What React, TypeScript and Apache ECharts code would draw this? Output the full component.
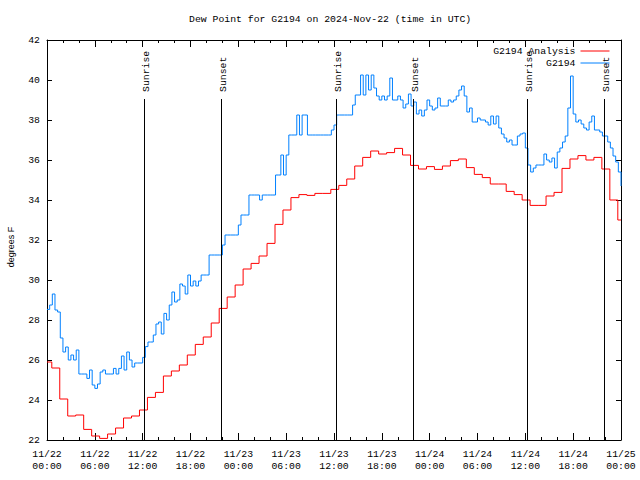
import React, { useEffect, useRef } from "react";
import * as echarts from "echarts";

const chartTitle = "Dew Point for G2194 on 2024-Nov-22 (time in UTC)";
const yAxisTitle = "degrees F";
const seriesNames = ["G2194 Analysis", "G2194"];
const xTickLabels = [
  "11/22\n00:00", "11/22\n06:00", "11/22\n12:00", "11/22\n18:00",
  "11/23\n00:00", "11/23\n06:00", "11/23\n12:00", "11/23\n18:00",
  "11/24\n00:00", "11/24\n06:00", "11/24\n12:00", "11/24\n18:00",
  "11/25\n00:00",
];

// hourly analysis values (hour 0 .. 72)
const analysisHourly = [
  25.9, 25.6, 24.05, 23.2, 23.25, 22.53, 22.2, 22.08, 22.3, 22.6,
  23.1, 23.2, 23.5, 24.13, 24.38, 25.2, 25.45, 25.75, 26.25, 26.78,
  27.15, 27.85, 28.58, 29.15, 29.75, 30.55, 30.83, 31.2, 31.83, 32.78,
  33.5, 34.12, 34.27, 34.23, 34.33, 34.33, 34.53, 34.73, 35.05, 35.7,
  36.13, 36.45, 36.3, 36.37, 36.58, 36.25, 35.73, 35.55, 35.67, 35.53,
  35.7, 35.97, 36.05, 35.62, 35.28, 35.12, 34.8, 34.8, 34.43, 34.27,
  34.0, 33.73, 33.73, 34.2, 34.38, 35.58, 36.05, 36.22, 36.0, 36.13,
  35.55, 34.0, 33.0,
];

// station observations every 20 minutes (index / 3 = hours)
const stationObs = [
  28.53, 28.75, 29.3, 28.5, 28.4, 27.1, 26.4, 26.65, 26.0, 26.25,
  26.0, 26.5, 25.3, 25.3, 25.3, 25.08, 25.5, 24.75, 24.58, 24.8,
  25.4, 25.5, 25.3, 25.3, 25.3, 25.58, 25.3, 25.58, 26.2, 25.5,
  26.4, 26.0, 25.65, 25.85, 25.85, 25.85, 26.13, 26.67, 26.9, 26.9,
  27.25, 27.8, 27.9, 27.3, 28.33, 28.0, 28.75, 29.4, 28.9, 29.0,
  29.8, 29.7, 29.3, 30.25, 29.7, 29.95, 29.7, 29.95, 30.25, 30.25,
  30.25, 31.25, 31.25, 31.25, 31.25, 31.25, 31.75, 32.25, 32.25, 32.25,
  32.25, 32.25, 32.75, 33.25, 33.25, 33.25, 34.25, 34.25, 34.25, 34.25,
  34.0, 34.25, 34.25, 34.25, 34.25, 34.25, 35.25, 35.25, 36.25, 35.25,
  36.25, 37.25, 37.25, 37.25, 38.25, 37.25, 38.25, 38.25, 37.25, 37.25,
  37.25, 37.25, 37.25, 37.25, 37.25, 37.25, 37.25, 37.5, 37.75, 38.25,
  38.25, 38.25, 38.25, 38.25, 38.25, 38.75, 39.25, 39.25, 40.25, 39.25,
  40.25, 39.5, 40.25, 39.6, 39.2, 39.0, 39.2, 39.0, 39.2, 40.1,
  39.0, 39.0, 39.2, 39.0, 38.6, 38.8, 39.3, 38.7, 38.9, 38.3,
  38.5, 38.2, 38.5, 39.0, 38.7, 38.5, 38.6, 39.1, 38.7, 38.7,
  38.7, 39.0, 38.9, 39.0, 39.2, 39.5, 39.7, 39.2, 38.4, 38.6,
  37.9, 37.9, 38.1, 38.0, 38.0, 37.9, 37.75, 38.2, 37.8, 38.2,
  37.6, 37.3, 37.1, 36.9, 37.0, 36.75, 36.75, 37.2, 37.3, 37.35,
  36.6, 35.75, 35.4, 35.6, 35.75, 35.75, 35.75, 36.3, 36.0, 35.9,
  36.1, 35.6, 36.4, 36.6, 36.9, 37.2, 38.6, 40.2, 38.3, 37.9,
  38.0, 37.8, 37.6, 37.5, 37.9, 38.2, 37.5, 37.5, 37.4, 37.2,
  37.2, 36.9, 36.6, 36.2, 35.9, 35.4, 34.7,
];

const sunEventHours = [12.22, 21.87, 36.27, 45.92, 60.27, 69.93];
const sunEventLabels = ["Sunrise", "Sunset", "Sunrise", "Sunset", "Sunrise", "Sunset"];

const Y_MIN = 22;
const Y_MAX = 42;
const X_MAX = 72;
const SUN_LINE_TOP = 39.05;

export default function App() {
  const ref = useRef<HTMLDivElement>(null);

  useEffect(() => {
    const chart = echarts.init(ref.current!, null, { renderer: "svg" });
    const mono = "'Liberation Mono', 'DejaVu Sans Mono', monospace";
    const fs = 9.8;

    const analysisData: number[][] = analysisHourly.map((v, h) => [Math.max(0, h - 0.4), v]);
    analysisData.push([X_MAX, analysisHourly[analysisHourly.length - 1]]);
    const stationData = stationObs.map((v, i) => [i / 3, v]);
    const sunData = sunEventHours.map((t) => [t, Y_MIN]);

    const xBase = (position: string, showLabel: boolean) => ({
      type: "value",
      position,
      min: 0,
      max: X_MAX,
      interval: 6,
      axisLine: { show: true, onZero: false, lineStyle: { color: "#000", width: 1 } },
      axisTick: { show: true, inside: true, length: 7, lineStyle: { color: "#000" } },
      minorTick: { show: true, splitNumber: 3, length: 3, lineStyle: { color: "#000" } },
      splitLine: { show: false },
      axisLabel: {
        show: showLabel,
        formatter: (v: number) => xTickLabels[Math.round(v / 6)] ?? "",
        color: "#000",
        fontFamily: mono,
        fontSize: fs,
        lineHeight: 12,
        margin: 8,
      },
    });
    const yBase = (position: string, showLabel: boolean) => ({
      type: "value",
      position,
      min: Y_MIN,
      max: Y_MAX,
      interval: 2,
      axisLine: { show: true, onZero: false, lineStyle: { color: "#000", width: 1 } },
      axisTick: { show: true, inside: true, length: 5, lineStyle: { color: "#000" } },
      splitLine: { show: false },
      axisLabel: {
        show: showLabel,
        color: "#000",
        fontFamily: mono,
        fontSize: fs,
        margin: 7,
      },
    });

    chart.setOption({
      animation: false,
      backgroundColor: "#fff",
      title: {
        text: chartTitle,
        left: 189,
        top: 14,
        padding: 0,
        textStyle: { fontFamily: mono, fontSize: fs, fontWeight: "normal", color: "#000" },
      },
      grid: { left: 47, right: 19, top: 40, bottom: 40, containLabel: false },
      legend: {
        data: seriesNames,
        orient: "vertical",
        align: "right",
        right: 30,
        top: 46,
        padding: 0,
        itemWidth: 29,
        itemHeight: 10,
        itemGap: 2,
        selectedMode: false,
        itemStyle: { opacity: 0, borderWidth: 0 },
        lineStyle: { width: 1 },
        textStyle: { fontFamily: mono, fontSize: fs, color: "#000" },
      },
      graphic: [
        {
          type: "text",
          x: 11,
          y: 247,
          rotation: Math.PI / 2,
          style: {
            text: yAxisTitle,
            font: "9px 'Liberation Sans', Arial, sans-serif",
            fill: "#000",
            align: "center",
            verticalAlign: "middle",
          },
        },
      ],
      xAxis: [xBase("bottom", true), xBase("top", false)],
      yAxis: [yBase("left", true), yBase("right", false)],
      series: [
        {
          name: seriesNames[0],
          type: "line",
          step: "end",
          data: analysisData,
          symbol: "none",
          xAxisIndex: 0,
          yAxisIndex: 0,
          lineStyle: { color: "#ff0000", width: 1 },
          itemStyle: { color: "#ff0000" },
          z: 2,
        },
        {
          name: seriesNames[1],
          type: "line",
          step: "end",
          data: stationData,
          symbol: "none",
          xAxisIndex: 0,
          yAxisIndex: 0,
          lineStyle: { color: "#0080ff", width: 1 },
          itemStyle: { color: "#0080ff" },
          z: 3,
        },
        {
          name: "sun",
          type: "custom",
          data: sunData,
          xAxisIndex: 0,
          yAxisIndex: 0,
          clip: false,
          z: 4,
          renderItem: (params: any, api: any) => {
            const t = api.value(0);
            const b = api.coord([t, Y_MIN]);
            const tp = api.coord([t, SUN_LINE_TOP]);
            const x = Math.round(b[0]) + 0.5;
            return {
              type: "group",
              children: [
                {
                  type: "line",
                  shape: { x1: x, y1: b[1], x2: x, y2: tp[1] },
                  style: { stroke: "#000", lineWidth: 1 },
                },
                {
                  type: "text",
                  x: x + 2,
                  y: tp[1] - 7,
                  rotation: Math.PI / 2,
                  style: {
                    text: sunEventLabels[params.dataIndex],
                    font: `${fs}px ${mono}`,
                    fill: "#000",
                    align: "left",
                    verticalAlign: "middle",
                  },
                },
              ],
            };
          },
        },
      ],
    });

    return () => chart.dispose();
  }, []);

  return (
    <div
      ref={ref}
      style={{ position: "fixed", left: 0, top: 0, width: 640, height: 480 }}
    />
  );
}
